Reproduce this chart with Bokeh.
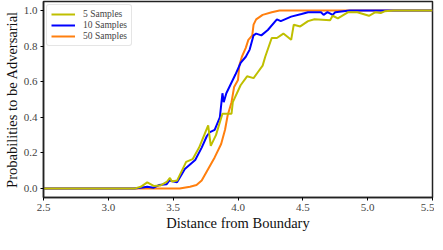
from bokeh.plotting import figure
from bokeh.models import FixedTicker, PrintfTickFormatter, Range1d, Legend, LegendItem
from bokeh.embed import file_html
from bokeh.resources import INLINE

# 5 samples
x5 = [2.5, 3.2, 3.25, 3.3, 3.35, 3.4, 3.45, 3.475, 3.49, 3.53, 3.6, 3.65, 3.7, 3.77, 3.79,
      3.83, 3.88, 3.95, 3.96, 4.02, 4.07, 4.12, 4.15, 4.19, 4.21, 4.26, 4.3, 4.35, 4.41,
      4.43, 4.48, 4.54, 4.59, 4.71, 4.73, 4.77, 4.85, 4.92, 5.01, 5.06, 5.1, 5.13, 5.2, 5.5]
y5 = [0.0, 0.0, 0.01, 0.035, 0.015, 0.017, 0.037, 0.06, 0.04, 0.045, 0.15, 0.165, 0.23, 0.355, 0.24,
      0.30, 0.42, 0.42, 0.485, 0.58, 0.63, 0.62, 0.65, 0.69, 0.74, 0.845, 0.845, 0.87, 0.835,
      0.92, 0.91, 0.94, 0.95, 0.945, 0.97, 0.955, 0.99, 0.99, 0.97, 0.99, 0.985, 0.995, 1.0, 1.0]

# 10 samples
x10 = [2.5, 3.2, 3.25, 3.3, 3.35, 3.39, 3.45, 3.47, 3.53, 3.59, 3.63, 3.67, 3.72, 3.76, 3.78,
       3.82, 3.86, 3.88, 3.89, 3.91, 3.98, 4.02, 4.06, 4.09, 4.12, 4.14, 4.18, 4.23, 4.3, 4.33,
       4.41, 4.49, 4.54, 4.64, 4.66, 4.69, 4.73, 4.75, 4.86, 5.5]
y10 = [0.0, 0.0, 0.005, 0.01, 0.005, 0.02, 0.025, 0.045, 0.035, 0.11, 0.135, 0.16, 0.23, 0.295, 0.315,
       0.33, 0.40, 0.535, 0.485, 0.535, 0.64, 0.705, 0.74, 0.78, 0.86, 0.87, 0.86, 0.89, 0.95, 0.94,
       0.965, 0.98, 0.99, 0.99, 0.975, 0.99, 0.975, 0.99, 1.0, 1.0]

# 50 samples
x50 = [2.5, 3.55, 3.63, 3.68, 3.72, 3.77, 3.82, 3.87, 3.9, 3.92, 3.95, 3.97, 4.0, 4.01, 4.03,
       4.06, 4.08, 4.11, 4.12, 4.14, 4.19, 4.26, 4.32, 5.5]
y50 = [0.0, 0.0, 0.01, 0.02, 0.045, 0.11, 0.175, 0.25, 0.33, 0.41, 0.485, 0.57, 0.61, 0.69, 0.74,
       0.79, 0.835, 0.86, 0.92, 0.95, 0.975, 0.99, 1.0, 1.0]

labels = ["5 Samples", "10 Samples", "50 Samples"]
colors = ["#bfbf00", "#0000ff", "#ff7f0e"]
xticks = [2.5, 3.0, 3.5, 4.0, 4.5, 5.0, 5.5]
yticks = [0.0, 0.2, 0.4, 0.6, 0.8, 1.0]

FONT = "Liberation Serif"

p = figure(frame_width=389, frame_height=196, output_backend="svg", toolbar_location=None,
           x_range=Range1d(2.5, 5.5), y_range=Range1d(-0.05, 1.05))
p.min_border_left = 0
p.min_border_right = 2
p.min_border_top = 1
p.min_border_bottom = 0

r50 = p.line(x50, y50, color=colors[2], line_width=2)
r10 = p.line(x10, y10, color=colors[1], line_width=2)
r5 = p.line(x5, y5, color=colors[0], line_width=2)

legend = Legend(items=[LegendItem(label=labels[0], renderers=[r5]),
                       LegendItem(label=labels[1], renderers=[r10]),
                       LegendItem(label=labels[2], renderers=[r50])],
                location="top_left")
legend.label_text_font = FONT
legend.label_text_font_size = "9.5px"
legend.glyph_width = 24
legend.glyph_height = 10
legend.spacing = 1
legend.padding = 4
legend.margin = 3
legend.label_standoff = 8
legend.border_line_color = "#cccccc"
legend.border_radius = 3
legend.label_height = 10
p.add_layout(legend)

p.xgrid.visible = False
p.ygrid.visible = False
p.outline_line_color = "#222222"
p.outline_line_width = 1.5

p.xaxis.ticker = FixedTicker(ticks=xticks)
p.yaxis.ticker = FixedTicker(ticks=yticks)
p.xaxis.formatter = PrintfTickFormatter(format="%.1f")
p.yaxis.formatter = PrintfTickFormatter(format="%.1f")
for ax in (p.xaxis, p.yaxis):
    ax.axis_line_color = "#222222"
    ax.axis_line_width = 1.5
    ax.major_tick_in = 0
    ax.major_tick_out = 3
    ax.minor_tick_line_color = None
    ax.major_label_text_font = FONT
    ax.major_label_text_font_size = "11px"
    ax.major_label_text_color = "#444444"
    ax.axis_label_text_font = FONT
    ax.axis_label_text_font_size = "14.5px"
    ax.axis_label_text_font_style = "normal"
    ax.axis_label_text_color = "#111111"
p.xaxis.axis_label = "Distance from Boundary"
p.yaxis.axis_label = "Probabilities to be Adversarial"
p.xaxis.axis_label_standoff = 1
p.yaxis.axis_label_standoff = 1
p.xaxis.major_label_standoff = 3
p.yaxis.major_label_standoff = 3

open("out.html", "w").write(file_html(p, INLINE))
